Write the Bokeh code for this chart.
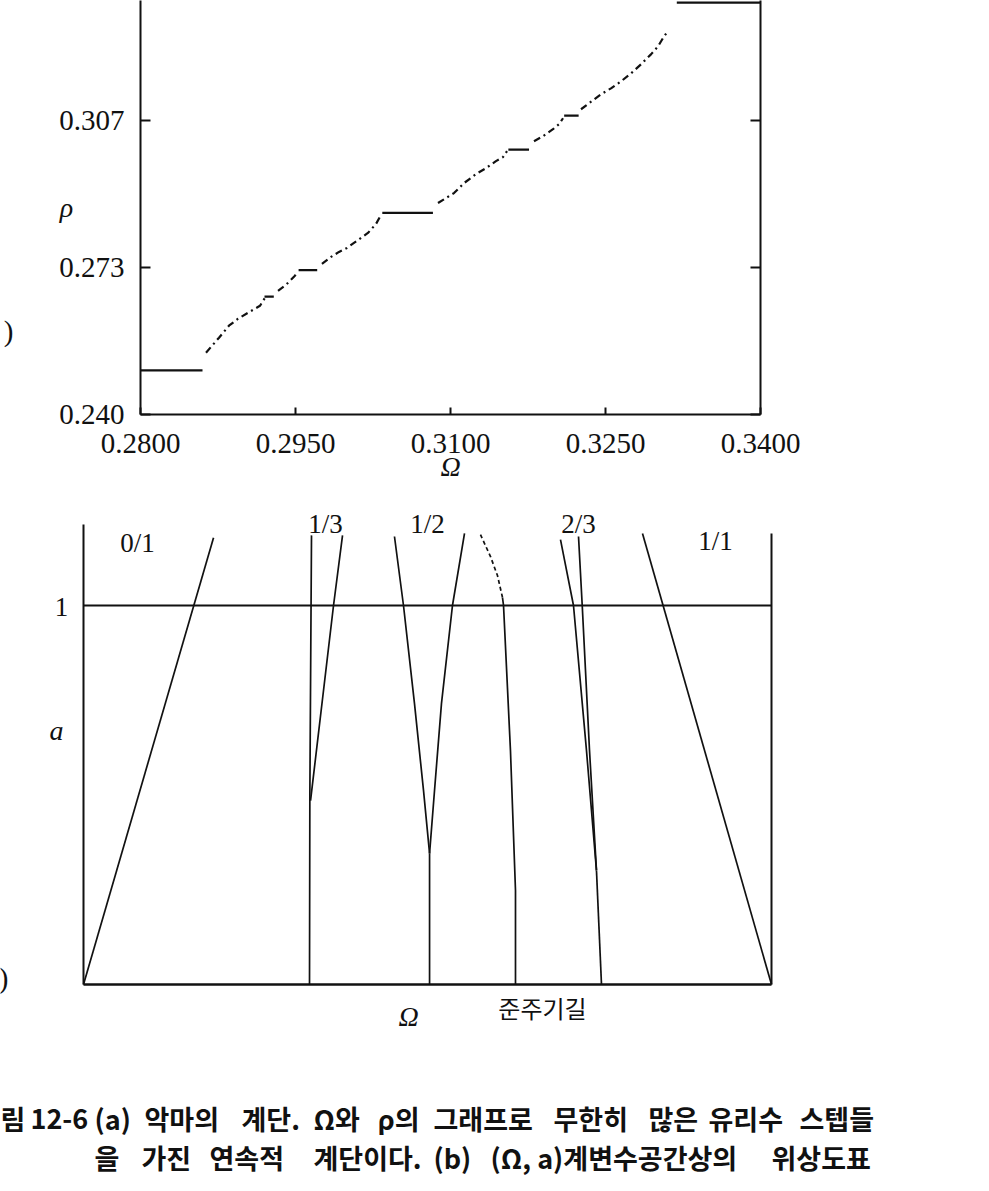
from bokeh.plotting import figure
from bokeh.models import Range1d, LinearAxis, FixedTicker
from bokeh.layouts import column, row
from bokeh.core.properties import value
from bokeh.embed import file_html
from bokeh.resources import INLINE

# ---------------- (a) devil's staircase ----------------
x_ticks = [0.2800, 0.2950, 0.3100, 0.3250, 0.3400]
x_tick_labels = ["0.2800", "0.2950", "0.3100", "0.3250", "0.3400"]
y_ticks = [0.2400, 0.27333, 0.30667]
y_tick_labels = ["0.240", "0.273", "0.307"]

# plateaus (mode-locked steps)
step_rho = [0.2500, 0.2667, 0.2727, 0.2857, 0.3000, 0.3077, 0.3333]
step_start = [0.2800, 0.2920, 0.2953, 0.3034, 0.3156, 0.3210, 0.3319]
step_end = [0.2860, 0.2929, 0.2971, 0.3083, 0.3176, 0.3224, 0.3400]

# fine structure between the main plateaus
curve_omega = [
    [0.28634, 0.28760, 0.28856, 0.28944, 0.29040, 0.29156, 0.29205],
    [0.29331, 0.29408, 0.29485, 0.29524],
    [0.29756, 0.29844, 0.29921, 0.29998, 0.30066, 0.30134, 0.30201, 0.30279, 0.30327],
    [0.30879, 0.30956, 0.31034, 0.31131, 0.31247, 0.31343, 0.31440, 0.31508, 0.31547],
    [0.31808, 0.31895, 0.31992, 0.32050, 0.32089],
    [0.32263, 0.32340, 0.32456, 0.32553, 0.32650, 0.32747, 0.32843, 0.32940, 0.33008, 0.33066, 0.33095],
]
curve_rho = [
    [0.25401, 0.25740, 0.26011, 0.26170, 0.26305, 0.26463, 0.26644],
    [0.26802, 0.26938, 0.27119, 0.27232],
    [0.27413, 0.27571, 0.27684, 0.27774, 0.27887, 0.28000, 0.28113, 0.28317, 0.28520],
    [0.28791, 0.28904, 0.29017, 0.29243, 0.29447, 0.29582, 0.29740, 0.29831, 0.29966],
    [0.30192, 0.30305, 0.30464, 0.30577, 0.30712],
    [0.30916, 0.31051, 0.31255, 0.31390, 0.31548, 0.31729, 0.31933, 0.32159, 0.32339, 0.32565, 0.32656],
]

# ---------------- (b) Arnold tongues (schematic) ----------------
edge_omega = [[0.0, 0.0], [1.0, 1.0], [0.0, 1.0]]
edge_a = [[0.0, 1.214], [0.0, 1.190], [1.0, 1.0]]
base_omega = [0.0, 1.0]
base_a = [0.0, 0.0]

tongue_omega = [
    [0.0, 0.189],
    [0.3285, 0.3290, 0.3314],
    [0.3300, 0.3634, 0.3765],
    [0.5030, 0.5030],
    [0.5030, 0.4942, 0.4811, 0.4651, 0.4520],
    [0.5030, 0.5102, 0.5203, 0.5363, 0.5538],
    [0.6279, 0.6279, 0.6206, 0.6105, 0.6090],
    [0.7529, 0.7456],
    [0.7456, 0.7311, 0.7122, 0.6933],
    [0.7456, 0.7355, 0.7249, 0.7195],
    [1.0, 0.8125],
]
tongue_a = [
    [0.0, 1.179],
    [0.0, 0.5, 1.185],
    [0.485, 1.0, 1.185],
    [0.0, 0.346],
    [0.346, 0.512, 0.741, 1.0, 1.182],
    [0.346, 0.512, 0.741, 1.0, 1.190],
    [0.0, 0.248, 0.617, 1.0, 1.021],
    [0.0, 0.301],
    [0.301, 0.617, 1.0, 1.174],
    [0.301, 0.617, 1.0, 1.182],
    [0.0, 1.190],
]
quasi_omega = [0.6090, 0.6017, 0.5916, 0.5770]
quasi_a = [1.021, 1.079, 1.129, 1.187]

tongue_names = ["0/1", "1/3", "1/2", "2/3", "1/1"]
tongue_label_x = [0.0785, 0.3517, 0.5000, 0.7195, 0.9186]
tongue_label_y = [1.164, 1.216, 1.214, 1.214, 1.169]

# ---------------- caption ----------------
cap1_words = ["림", "12-6", "(a)", "악마의", "계단.", "Ω와", "ρ의", "그래프로", "무한히", "많은", "유리수", "스텝들"]
cap1_x = [0, 30, 94, 144, 241, 313, 377, 433, 553, 648, 708, 799]
cap2_words = ["을", "가진", "연속적", "계단이다.", "(b)", "(Ω, a)계변수공간상의", "위상도표"]
cap2_x = [94, 141, 209, 313, 433, 490, 771]

INK = "#111111"
SERIF = "Liberation Serif"
KR = "Noto Sans CJK KR"
W = 985

# ======== figure (a) ========
pa = figure(width=W, height=490, x_range=Range1d(0.28, 0.34), y_range=Range1d(0.24, 0.3338),
            output_backend="svg", toolbar_location=None, x_axis_type=None, y_axis_type=None,
            min_border_left=140, min_border_right=W - 140 - 620, min_border_top=0, min_border_bottom=76)
pa.outline_line_color = None

xa = LinearAxis(ticker=FixedTicker(ticks=x_ticks),
                major_label_overrides={t: s for t, s in zip(x_ticks, x_tick_labels)},
                axis_label="Ω")
ya = LinearAxis(ticker=FixedTicker(ticks=y_ticks),
                major_label_overrides={t: s for t, s in zip(y_ticks, y_tick_labels)},
                axis_label="ρ")
yr = LinearAxis(ticker=FixedTicker(ticks=y_ticks), major_label_text_color=None)
for ax in (xa, ya, yr):
    ax.axis_line_width = 2
    ax.axis_line_color = INK
    ax.major_tick_line_color = INK
    ax.major_tick_line_width = 2
    ax.major_tick_out = 0
    ax.minor_tick_line_color = None
    ax.major_label_text_font = SERIF
    ax.axis_label_text_font = SERIF
    ax.axis_label_text_font_style = "italic"
    ax.axis_label_text_font_size = "28px"
    ax.axis_label_text_color = INK
for ax in (xa, ya):
    ax.major_label_text_color = INK
    ax.major_label_text_font_size = "29px"
xa.major_tick_in = 7
xa.major_label_standoff = 19
xa.axis_label_standoff = -5
ya.major_tick_in = 10
ya.major_label_standoff = 16
ya.axis_label_orientation = "horizontal"
ya.axis_label_standoff = -17
yr.major_tick_in = 10

# visible remnant of the panel tag, at the page edge as in the scan
ytag = LinearAxis(ticker=FixedTicker(ticks=[0.25881]), major_label_overrides={0.25881: ")"},
                  axis_line_color=None, major_tick_line_color=None, minor_tick_line_color=None,
                  major_label_text_font=SERIF, major_label_text_font_size="29px",
                  major_label_text_color=INK, major_label_standoff=37)
pa.add_layout(xa, "below")
pa.add_layout(ya, "left")
pa.add_layout(ytag, "left")
pa.add_layout(yr, "right")

pa.segment(x0=step_start, x1=step_end, y0=step_rho, y1=step_rho, line_width=2.2, line_color=INK)
pa.multi_line(xs=curve_omega, ys=curve_rho, line_width=2.2, line_color=INK, line_dash="7 4 2 4")

# ======== figure (b) ========
pb = figure(width=W, height=544, x_range=Range1d(-0.12064, 1.31105), y_range=Range1d(-0.13193, 1.3034),
            output_backend="svg", toolbar_location=None, x_axis_type=None, y_axis_type=None,
            min_border=0)
pb.outline_line_color = None
pb.multi_line(xs=edge_omega, ys=edge_a, line_width=2, line_color=INK)
pb.line(x=base_omega, y=base_a, line_width=2.6, line_color=INK)
pb.multi_line(xs=tongue_omega, ys=tongue_a, line_width=1.7, line_color=INK)
pb.line(x=quasi_omega, y=quasi_a, line_width=1.7, line_color=INK, line_dash="4 3")
pb.text(x=tongue_label_x, y=tongue_label_y, text=tongue_names, text_font=value(SERIF),
        text_font_size="27px", text_align="center", text_baseline="middle", text_color=INK)
pb.text(x=[-0.0320], y=[0.9947], text=["1"], text_font=value(SERIF), text_font_size="27px",
        text_align="center", text_baseline="middle", text_color=INK)
pb.text(x=[-0.0392, 0.4724], y=[0.670, -0.0844], text=["a", "Ω"], text_font=value(SERIF),
        text_font_style="italic", text_font_size="28px", text_align="center",
        text_baseline="middle", text_color=INK)
pb.text(x=[0.6672], y=[-0.0607], text=["준주기길"], text_font=value(KR), text_font_size="24px",
        text_align="center", text_baseline="middle", text_color=INK)
pb.text(x=[-0.1090], y=[0.018], text=[")"], text_font=value(SERIF), text_font_size="29px",
        text_align="right", text_baseline="middle", text_color=INK)

# ======== caption ========
CH = 152
pc = figure(width=W, height=CH, x_range=Range1d(0, W), y_range=Range1d(CH, 0),
            output_backend="svg", toolbar_location=None, x_axis_type=None, y_axis_type=None,
            min_border=0)
pc.outline_line_color = None
pc.text(x=cap1_x, y=[84] * len(cap1_x), text=cap1_words, text_font=value(KR),
        text_font_size="27px", text_font_style="bold", text_align="left", text_baseline="middle",
        text_color=INK)
pc.text(x=cap2_x, y=[123] * len(cap2_x), text=cap2_words, text_font=value(KR),
        text_font_size="27px", text_font_style="bold", text_align="left", text_baseline="middle",
        text_color=INK)

layout = column(row(pa), row(pb), row(pc), spacing=0)

with open("out.html", "w") as f:
    f.write(file_html(layout, INLINE))
